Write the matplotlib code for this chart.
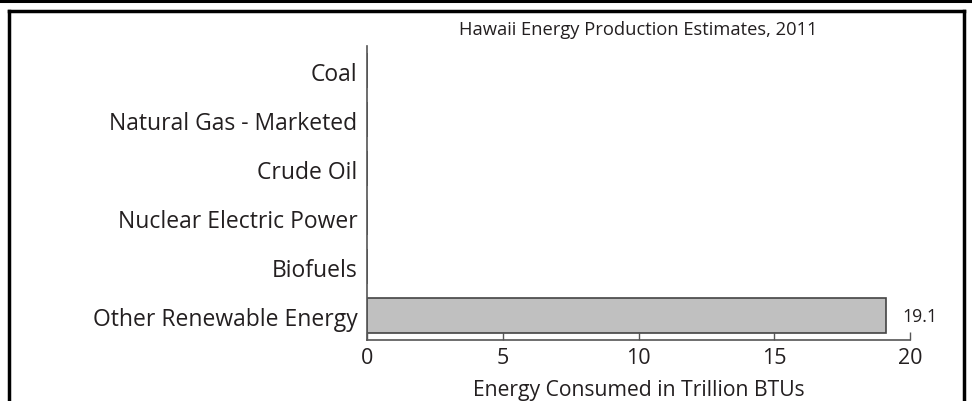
import matplotlib.pyplot as plt
from matplotlib.lines import Line2D

plt.rcParams['font.family'] = ['Open Sans', 'DejaVu Sans']

# data
sources = ['Coal', 'Natural Gas - Marketed', 'Crude Oil', 'Nuclear Electric Power',
           'Biofuels', 'Other Renewable Energy']
values = [0, 0, 0, 0, 0, 19.1]
value_labels = ['', '', '', '', '', '19.1']
xticks = [0, 5, 10, 15, 20]

txt = '#231f20'

fig = plt.figure(figsize=(9.72, 4.02), dpi=100)
ax = fig.add_axes([0.3776, 0.1517, 0.5586, 0.7313])

ypos = list(range(len(sources)))[::-1]
ax.barh(ypos, values, height=0.7, color='#c0c0c0', edgecolor='#444444', linewidth=1.2)

for y, v, lab in zip(ypos, values, value_labels):
    if lab:
        ax.annotate(lab, (v, y), xytext=(12, 0), textcoords='offset points',
                    va='center', ha='left', fontsize=12.8, color=txt)

ax.set_xlim(0, 20)
ax.set_ylim(-0.5, len(sources) - 0.5)
ax.set_yticks(ypos)
ax.set_yticklabels(sources, fontsize=16.5, color=txt)
ax.set_xticks(xticks)
ax.set_xticklabels([str(t) for t in xticks], fontsize=15.5, color=txt)
ax.tick_params(axis='y', length=0, pad=7)
ax.tick_params(axis='x', direction='in', length=6, width=1, color='#555555', pad=5)

for s in ['top', 'right']:
    ax.spines[s].set_visible(False)
for s in ['left', 'bottom']:
    ax.spines[s].set_color('#555555')
    ax.spines[s].set_linewidth(1.2)

xc = (0.3776 + 0.3776 + 0.5586) / 2
fig.text(xc, 1 - 35 / 402, 'Hawaii Energy Production Estimates, 2011',
         ha='center', va='baseline', fontsize=13.2, color=txt)
fig.text(xc, 1 / 402, 'Energy Consumed in Trillion BTUs',
         ha='center', va='bottom', fontsize=15.2, color=txt)

# page frame
fig.add_artist(Line2D([0, 1], [1 - 2 / 402, 1 - 2 / 402], color='black', lw=2.2))
fig.add_artist(Line2D([9 / 972, 964 / 972], [1 - 11.5 / 402, 1 - 11.5 / 402], color='black', lw=2.5))
fig.add_artist(Line2D([9 / 972, 9 / 972], [0, 1 - 11.5 / 402], color='black', lw=2.5))
fig.add_artist(Line2D([964 / 972, 964 / 972], [0, 1 - 11.5 / 402], color='black', lw=2.5))

fig.savefig('out.png', dpi=100)
